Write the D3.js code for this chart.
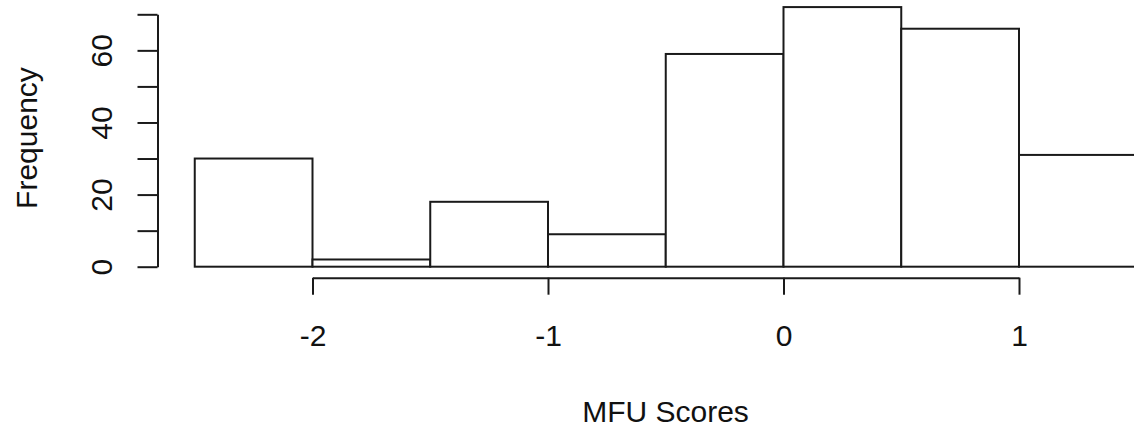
<!DOCTYPE html>
<html>
<head>
<meta charset="utf-8">
<script src="https://cdn.jsdelivr.net/npm/d3@7"></script>
<style>
  html, body { margin: 0; padding: 0; background: #fff; }
  svg { display: block; }
  text { font-family: "Liberation Sans", Arial, sans-serif; fill: #111; }
</style>
</head>
<body>
<svg id="chart" width="1134" height="435"></svg>
<script>
// Data
const binStarts = [-2.5, -2.0, -1.5, -1.0, -0.5, 0.0, 0.5, 1.0];
const binWidth = 0.5;
const counts = [30, 2, 18, 9, 59, 72, 66, 31];
const xTicks = [-2, -1, 0, 1];
const yTicks = [0, 10, 20, 30, 40, 50, 60, 70];
const yLabels = [0, 20, 40, 60];
const xTitle = "MFU Scores";
const yTitle = "Frequency";

const svg = d3.select("#chart");

const x = d3.scaleLinear().domain([-2, 1]).range([312.5, 1019]);
const y = d3.scaleLinear().domain([0, 70]).range([266.7, 14.3]);

const lineColor = "#1a1a1a";

// Bars
svg.append("g").selectAll("rect")
  .data(binStarts.map((s, i) => ({ s, c: counts[i] })))
  .join("rect")
  .attr("x", d => x(d.s))
  .attr("width", d => x(d.s + binWidth) - x(d.s))
  .attr("y", d => y(d.c))
  .attr("height", d => y(0) - y(d.c))
  .attr("fill", "#fff")
  .attr("stroke", lineColor)
  .attr("stroke-width", 2);

// X axis
const xAxisY = 277.7;
const gx = svg.append("g")
  .attr("transform", `translate(0,${xAxisY})`)
  .call(d3.axisBottom(x).tickValues(xTicks).tickSize(17).tickSizeOuter(0)
    .tickFormat(d => d3.format("d")(d).replace("−", "-")));
gx.select(".domain").attr("stroke", lineColor).attr("stroke-width", 2);
gx.selectAll(".tick line").attr("stroke", lineColor).attr("stroke-width", 2);
gx.selectAll(".tick text")
  .attr("y", 346 - xAxisY).attr("dy", null)
  .attr("font-size", 30)
  .attr("font-family", "Liberation Sans, Arial, sans-serif")
  .attr("fill", "#111");

// Y axis
const yAxisX = 157.5;
const gy = svg.append("g")
  .attr("transform", `translate(${yAxisX},0)`)
  .call(d3.axisLeft(y).tickValues(yTicks).tickSize(20).tickSizeOuter(0)
    .tickFormat(d => yLabels.includes(d) ? String(d) : ""));
gy.select(".domain").attr("stroke", lineColor).attr("stroke-width", 2);
gy.selectAll(".tick line").attr("stroke", lineColor).attr("stroke-width", 2);
gy.selectAll(".tick text")
  .attr("x", null).attr("dy", null)
  .attr("transform", `translate(${112 - yAxisX},0) rotate(-90)`)
  .attr("text-anchor", "middle")
  .attr("font-size", 30)
  .attr("font-family", "Liberation Sans, Arial, sans-serif")
  .attr("fill", "#111");

// Titles
svg.append("text")
  .attr("x", 665.5).attr("y", 422)
  .attr("text-anchor", "middle")
  .attr("font-size", 30)
  .text(xTitle);

svg.append("text")
  .attr("transform", "translate(37,138) rotate(-90)")
  .attr("text-anchor", "middle")
  .attr("font-size", 30)
  .text(yTitle);
</script>
</body>
</html>
